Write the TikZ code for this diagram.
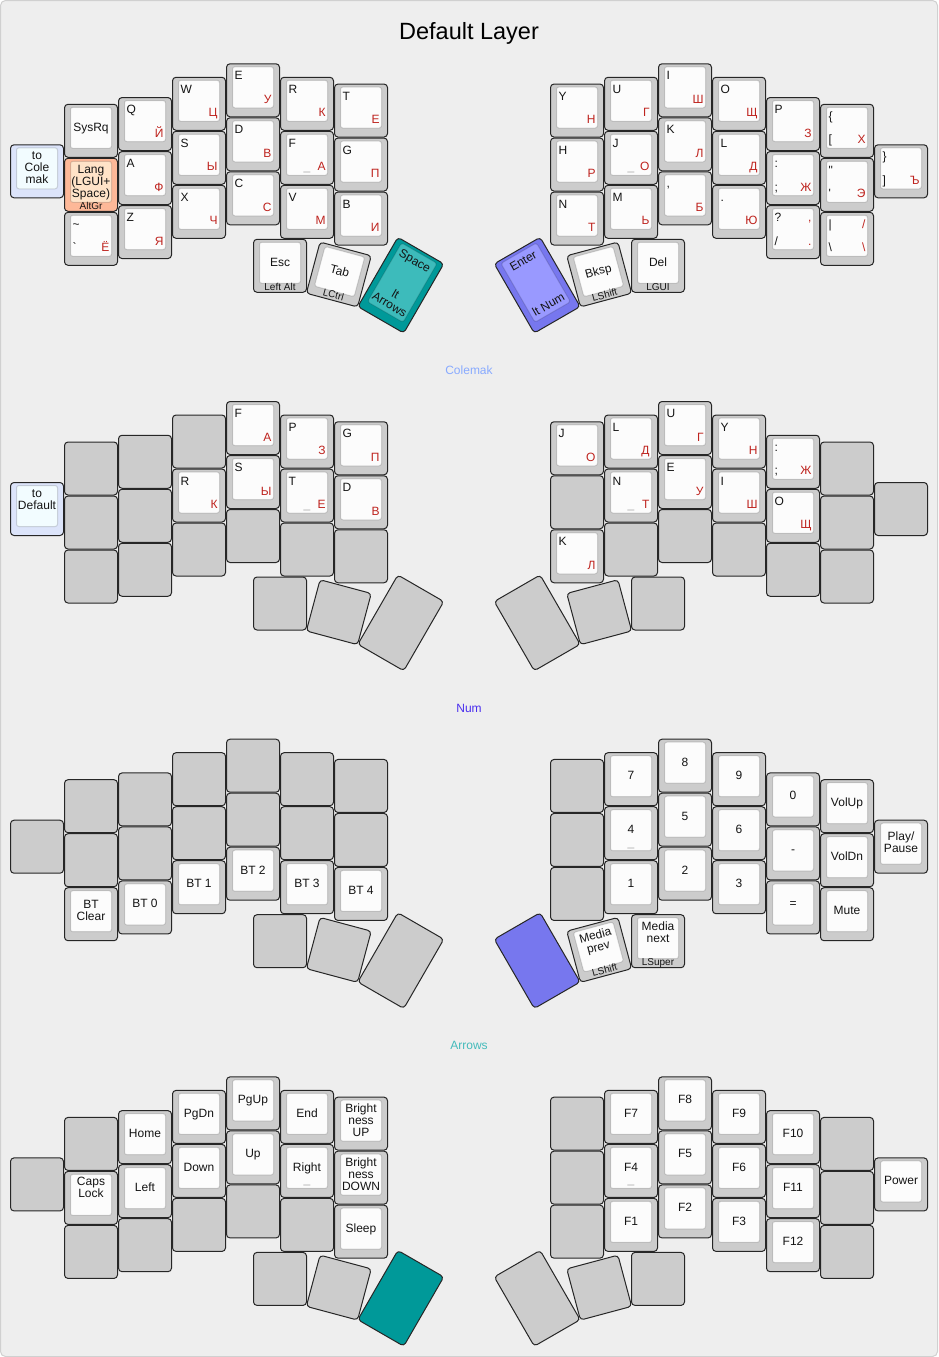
\documentclass[tikz,border=0pt]{standalone}
\usepackage{fontspec}
\setmainfont{Liberation Sans}[Ligatures=TeXOff]
\definecolor{bg}{HTML}{EEEEEE}
\definecolor{bgedge}{HTML}{D0D0D0}
\definecolor{kgray}{HTML}{CCCCCC}
\definecolor{kcap}{HTML}{FCFCFC}
\definecolor{kblueO}{HTML}{DCE4FA}
\definecolor{kblueI}{HTML}{F2FCFF}
\definecolor{klangO}{HTML}{FDB898}
\definecolor{klangI}{HTML}{FFE3C8}
\definecolor{ktealO}{HTML}{009999}
\definecolor{ktealI}{HTML}{3DBBBB}
\definecolor{kpurO}{HTML}{7777EE}
\definecolor{kpurI}{HTML}{9999FF}
\definecolor{kred}{HTML}{BE231E}
\definecolor{kedge}{HTML}{262626}
\definecolor{labColemak}{HTML}{88AAFF}
\definecolor{labNum}{HTML}{4A2EEE}
\definecolor{labArrows}{HTML}{44BBBB}

\newcommand\yoff[1]{\ifcase#1 81\or 40.5\or 33.75\or 13.5\or 0\or 13.5\or 20.25\fi}
\def\typecap{\def\kO{kgray}\def\kI{kcap}}
\def\typeblank{\def\kO{kgray}\def\kI{none}}
\def\typetoL{\def\kO{kblueO}\def\kI{kblueI}}
\def\typelang{\def\kO{klangO}\def\kI{klangI}}
\def\typeteal{\def\kO{ktealO}\def\kI{ktealI}}
\def\typepur{\def\kO{kpurO}\def\kI{kpurI}}
\def\typetealS{\def\kO{ktealO}\def\kI{none}}
\def\typepurS{\def\kO{kpurO}\def\kI{none}}
\def\knone{none}

% #1 type, #2 cx, #3 cy, #4 w, #5 h, #6 rotation, #7 legends
\newcommand\drawkey[7]{%
  \csname type#1\endcsname
  \def\kw{#4}\def\kh{#5}%
  \begin{scope}[shift={(#2,#3)},rotate=#6]
  \begin{scope}[shift={(-#4/2,-#5/2)}]
    \filldraw[keyouter,fill=\kO] (0,0) rectangle (#4,#5);
    \ifx\kI\knone\else
      \filldraw[keyinner,fill=\kI] (6,3) rectangle (#4-6,#5-9);
    \fi
    #7
  \end{scope}
  \end{scope}}

\newcommand\kTL[1]{\node[lg,anchor=base west] at (8,16) {#1};}
\newcommand\kBL[1]{\node[lg,anchor=base west] at (8,\kh-13.5) {#1};}
\newcommand\kTR[1]{\node[lg,text=kred,anchor=base east] at (\kw-8,16) {#1};}
\newcommand\kBR[1]{\node[lg,text=kred,anchor=base east] at (\kw-8,\kh-13.5) {#1};}
\newcommand\kHM{\node[lg,text=black!33,anchor=base] at (\kw/2,\kh-13.5) {\_};}
\newcommand\kTC[1]{\node[lg,anchor=base] at (\kw/2,16) {#1};}
\newcommand\kCC[2]{\foreach \lbl [count=\li from 0] in {#2} {\node[lg,anchor=base] at (\kw/2,#1+12*\li) {\lbl};}}
\newcommand\kBC[2]{\foreach \lbl [count=\li from 0] in {#2} {\node[lg,anchor=base] at (\kw/2,\kh-13.5-12*#1+12+12*\li) {\lbl};}}
\newcommand\kFR[1]{\node[lg,font=\fontsize{10}{10}\selectfont,anchor=base] at (\kw/2,\kh-2) {#1};}

% grid key: #1 side L/R, #2 column from outer edge, #3 row, #4 type, #5 legends
\newcommand\Kg[5]{%
  \pgfmathsetmacro\gx{10.5+54*#2+26.5}%
  \if#1R\pgfmathsetmacro\gx{938-\gx}\fi
  \pgfmathsetmacro\gy{63.8+\loff+\yoff{#2}+54*#3+26.5}%
  \drawkey{#4}{\gx}{\gy}{53}{53}{0}{#5}}

% thumb key: #1 side, #2 number 1..3, #3 type, #4 legends
\newcommand\Thumb[4]{%
  \ifcase#2\or \def\ktx{280}\def\kty{265.8}\def\ktr{0}\def\kth{53}%
  \or \def\ktx{338.8}\def\kty{274.5}\def\ktr{-15}\def\kth{53}%
  \or \def\ktx{400.8}\def\kty{285.2}\def\ktr{-30}\def\kth{80}\fi
  \if#1R\pgfmathsetmacro\ktx{938-\ktx}\pgfmathsetmacro\ktr{0-(\ktr)}\fi
  \pgfmathsetmacro\kty{\kty+\loff}%
  \drawkey{#3}{\ktx}{\kty}{53}{\kth}{\ktr}{#4}}

\begin{document}
\begin{tikzpicture}[x=1pt,y=-1pt,
  keyouter/.style={draw=kedge,line width=1pt,rounded corners=3.5pt},
  keyinner/.style={draw=black,draw opacity=0.14,line width=1pt,rounded corners=2.5pt},
  lg/.style={inner sep=0pt,outer sep=0pt,transform shape,font=\fontsize{12}{12}\selectfont,text=black!92},
  layerlabel/.style={inner sep=0pt,anchor=base,font=\fontsize{12}{12}\selectfont}]
\useasboundingbox (0,0) rectangle (938,1357);
\filldraw[fill=bg,draw=bgedge,line width=1pt,rounded corners=5pt] (0.5,0.5) rectangle (937.5,1356.5);

\node[inner sep=0pt,anchor=base,font=\fontsize{23.5}{24}\selectfont] (title) at (469,39.3) {Default Layer};
\node[layerlabel,text=labColemak] (labC) at (469,374.5) {Colemak};
\node[layerlabel,text=labNum] (labN) at (469,712.2) {Num};
\node[layerlabel,text=labArrows] (labA) at (469,1049.9) {Arrows};

%================ Default layer
\def\loff{0}
\Kg{L}{0}{0}{toL}{\kCC{15}{to,Cole,mak}}
\Kg{L}{1}{0}{cap}{\kCC{27}{SysRq}}
\Kg{L}{1}{1}{lang}{\kCC{15.5}{Lang,{(LGUI+},{Space)}}\kFR{AltGr}}
\Kg{L}{1}{2}{cap}{\kTL{\textasciitilde}\kBL{`}\kBR{Ё}}
\Kg{L}{2}{0}{cap}{\kTL{Q}\kBR{Й}}
\Kg{L}{2}{1}{cap}{\kTL{A}\kBR{Ф}}
\Kg{L}{2}{2}{cap}{\kTL{Z}\kBR{Я}}
\Kg{L}{3}{0}{cap}{\kTL{W}\kBR{Ц}}
\Kg{L}{3}{1}{cap}{\kTL{S}\kBR{Ы}}
\Kg{L}{3}{2}{cap}{\kTL{X}\kBR{Ч}}
\Kg{L}{4}{0}{cap}{\kTL{E}\kBR{У}}
\Kg{L}{4}{1}{cap}{\kTL{D}\kBR{В}}
\Kg{L}{4}{2}{cap}{\kTL{C}\kBR{С}}
\Kg{L}{5}{0}{cap}{\kTL{R}\kBR{К}}
\Kg{L}{5}{1}{cap}{\kTL{F}\kBR{А}\kHM}
\Kg{L}{5}{2}{cap}{\kTL{V}\kBR{М}}
\Kg{L}{6}{0}{cap}{\kTL{T}\kBR{Е}}
\Kg{L}{6}{1}{cap}{\kTL{G}\kBR{П}}
\Kg{L}{6}{2}{cap}{\kTL{B}\kBR{И}}
\Thumb{L}{1}{cap}{\kCC{27}{Esc}\kFR{Left Alt}}
\Thumb{L}{2}{cap}{\kCC{27}{Tab}\kFR{LCtrl}}
\Thumb{L}{3}{teal}{\kTC{Space}\kBC{2}{lt,Arrows}}
\Kg{R}{0}{0}{cap}{\kTL{\}}\kBL{]}\kBR{Ъ}}
\Kg{R}{1}{0}{cap}{\kTL{\{}\kBL{[}\kBR{Х}}
\Kg{R}{1}{1}{cap}{\kTL{"}\kBL{'}\kBR{Э}}
\Kg{R}{1}{2}{cap}{\kTL{|}\kBL{\textbackslash}\kTR{/}\kBR{\textbackslash}}
\Kg{R}{2}{0}{cap}{\kTL{P}\kBR{З}}
\Kg{R}{2}{1}{cap}{\kTL{:}\kBL{;}\kBR{Ж}}
\Kg{R}{2}{2}{cap}{\kTL{?}\kBL{/}\kTR{,}\kBR{.}}
\Kg{R}{3}{0}{cap}{\kTL{O}\kBR{Щ}}
\Kg{R}{3}{1}{cap}{\kTL{L}\kBR{Д}}
\Kg{R}{3}{2}{cap}{\kTL{.}\kBR{Ю}}
\Kg{R}{4}{0}{cap}{\kTL{I}\kBR{Ш}}
\Kg{R}{4}{1}{cap}{\kTL{K}\kBR{Л}}
\Kg{R}{4}{2}{cap}{\kTL{,}\kBR{Б}}
\Kg{R}{5}{0}{cap}{\kTL{U}\kBR{Г}}
\Kg{R}{5}{1}{cap}{\kTL{J}\kBR{О}\kHM}
\Kg{R}{5}{2}{cap}{\kTL{M}\kBR{Ь}}
\Kg{R}{6}{0}{cap}{\kTL{Y}\kBR{Н}}
\Kg{R}{6}{1}{cap}{\kTL{H}\kBR{Р}}
\Kg{R}{6}{2}{cap}{\kTL{N}\kBR{Т}}
\Thumb{R}{1}{cap}{\kCC{27}{Del}\kFR{LGUI}}
\Thumb{R}{2}{cap}{\kCC{27}{Bksp}\kFR{LShift}}
\Thumb{R}{3}{pur}{\kTC{Enter}\kBC{1}{lt Num}}

%================ Colemak layer
\def\loff{337.7}
\Kg{L}{0}{0}{toL}{\kCC{15}{to,Default}}
\Kg{L}{1}{0}{blank}{}
\Kg{L}{1}{1}{blank}{}
\Kg{L}{1}{2}{blank}{}
\Kg{L}{2}{0}{blank}{}
\Kg{L}{2}{1}{blank}{}
\Kg{L}{2}{2}{blank}{}
\Kg{L}{3}{0}{blank}{}
\Kg{L}{3}{1}{cap}{\kTL{R}\kBR{К}}
\Kg{L}{3}{2}{blank}{}
\Kg{L}{4}{0}{cap}{\kTL{F}\kBR{А}}
\Kg{L}{4}{1}{cap}{\kTL{S}\kBR{Ы}}
\Kg{L}{4}{2}{blank}{}
\Kg{L}{5}{0}{cap}{\kTL{P}\kBR{З}}
\Kg{L}{5}{1}{cap}{\kTL{T}\kBR{Е}\kHM}
\Kg{L}{5}{2}{blank}{}
\Kg{L}{6}{0}{cap}{\kTL{G}\kBR{П}}
\Kg{L}{6}{1}{cap}{\kTL{D}\kBR{В}}
\Kg{L}{6}{2}{blank}{}
\Thumb{L}{1}{blank}{}
\Thumb{L}{2}{blank}{}
\Thumb{L}{3}{blank}{}
\Kg{R}{0}{0}{blank}{}
\Kg{R}{1}{0}{blank}{}
\Kg{R}{1}{1}{blank}{}
\Kg{R}{1}{2}{blank}{}
\Kg{R}{2}{0}{cap}{\kTL{:}\kBL{;}\kBR{Ж}}
\Kg{R}{2}{1}{cap}{\kTL{O}\kBR{Щ}}
\Kg{R}{2}{2}{blank}{}
\Kg{R}{3}{0}{cap}{\kTL{Y}\kBR{Н}}
\Kg{R}{3}{1}{cap}{\kTL{I}\kBR{Ш}}
\Kg{R}{3}{2}{blank}{}
\Kg{R}{4}{0}{cap}{\kTL{U}\kBR{Г}}
\Kg{R}{4}{1}{cap}{\kTL{E}\kBR{У}}
\Kg{R}{4}{2}{blank}{}
\Kg{R}{5}{0}{cap}{\kTL{L}\kBR{Д}}
\Kg{R}{5}{1}{cap}{\kTL{N}\kBR{Т}\kHM}
\Kg{R}{5}{2}{blank}{}
\Kg{R}{6}{0}{cap}{\kTL{J}\kBR{О}}
\Kg{R}{6}{1}{blank}{}
\Kg{R}{6}{2}{cap}{\kTL{K}\kBR{Л}}
\Thumb{R}{1}{blank}{}
\Thumb{R}{2}{blank}{}
\Thumb{R}{3}{blank}{}

%================ Num layer
\def\loff{675.4}
\Kg{L}{0}{0}{blank}{}
\Kg{L}{1}{0}{blank}{}
\Kg{L}{1}{1}{blank}{}
\Kg{L}{1}{2}{cap}{\kCC{21}{BT,Clear}}
\Kg{L}{2}{0}{blank}{}
\Kg{L}{2}{1}{blank}{}
\Kg{L}{2}{2}{cap}{\kCC{27}{BT 0}}
\Kg{L}{3}{0}{blank}{}
\Kg{L}{3}{1}{blank}{}
\Kg{L}{3}{2}{cap}{\kCC{27}{BT 1}}
\Kg{L}{4}{0}{blank}{}
\Kg{L}{4}{1}{blank}{}
\Kg{L}{4}{2}{cap}{\kCC{27}{BT 2}}
\Kg{L}{5}{0}{blank}{}
\Kg{L}{5}{1}{blank}{}
\Kg{L}{5}{2}{cap}{\kCC{27}{BT 3}}
\Kg{L}{6}{0}{blank}{}
\Kg{L}{6}{1}{blank}{}
\Kg{L}{6}{2}{cap}{\kCC{27}{BT 4}}
\Thumb{L}{1}{blank}{}
\Thumb{L}{2}{blank}{}
\Thumb{L}{3}{blank}{}
\Kg{R}{0}{0}{cap}{\kCC{20.5}{Play/,Pause}}
\Kg{R}{1}{0}{cap}{\kCC{27}{VolUp}}
\Kg{R}{1}{1}{cap}{\kCC{27}{VolDn}}
\Kg{R}{1}{2}{cap}{\kCC{27}{Mute}}
\Kg{R}{2}{0}{cap}{\kCC{27}{0}}
\Kg{R}{2}{1}{cap}{\kCC{27}{-}}
\Kg{R}{2}{2}{cap}{\kCC{27}{=}}
\Kg{R}{3}{0}{cap}{\kCC{27}{9}}
\Kg{R}{3}{1}{cap}{\kCC{27}{6}}
\Kg{R}{3}{2}{cap}{\kCC{27}{3}}
\Kg{R}{4}{0}{cap}{\kCC{27}{8}}
\Kg{R}{4}{1}{cap}{\kCC{27}{5}}
\Kg{R}{4}{2}{cap}{\kCC{27}{2}}
\Kg{R}{5}{0}{cap}{\kCC{27}{7}}
\Kg{R}{5}{1}{cap}{\kCC{27}{4}\kHM}
\Kg{R}{5}{2}{cap}{\kCC{27}{1}}
\Kg{R}{6}{0}{blank}{}
\Kg{R}{6}{1}{blank}{}
\Kg{R}{6}{2}{blank}{}
\Thumb{R}{1}{cap}{\kCC{15.5}{Media,next}\kFR{LSuper}}
\Thumb{R}{2}{cap}{\kCC{15.5}{Media,prev}\kFR{LShift}}
\Thumb{R}{3}{purS}{}

%================ Arrows layer
\def\loff{1013.1}
\Kg{L}{0}{0}{blank}{}
\Kg{L}{1}{0}{blank}{}
\Kg{L}{1}{1}{cap}{\kCC{14.5}{Caps,Lock}}
\Kg{L}{1}{2}{blank}{}
\Kg{L}{2}{0}{cap}{\kCC{27}{Home}}
\Kg{L}{2}{1}{cap}{\kCC{27}{Left}}
\Kg{L}{2}{2}{blank}{}
\Kg{L}{3}{0}{cap}{\kCC{27}{PgDn}}
\Kg{L}{3}{1}{cap}{\kCC{27}{Down}}
\Kg{L}{3}{2}{blank}{}
\Kg{L}{4}{0}{cap}{\kCC{27}{PgUp}}
\Kg{L}{4}{1}{cap}{\kCC{27}{Up}}
\Kg{L}{4}{2}{blank}{}
\Kg{L}{5}{0}{cap}{\kCC{27}{End}}
\Kg{L}{5}{1}{cap}{\kCC{27}{Right}\kHM}
\Kg{L}{5}{2}{blank}{}
\Kg{L}{6}{0}{cap}{\kCC{15}{Bright,ness,UP}}
\Kg{L}{6}{1}{cap}{\kCC{15}{Bright,ness,DOWN}}
\Kg{L}{6}{2}{cap}{\kCC{27}{Sleep}}
\Thumb{L}{1}{blank}{}
\Thumb{L}{2}{blank}{}
\Thumb{L}{3}{tealS}{}
\Kg{R}{0}{0}{cap}{\kCC{27}{Power}}
\Kg{R}{1}{0}{blank}{}
\Kg{R}{1}{1}{blank}{}
\Kg{R}{1}{2}{blank}{}
\Kg{R}{2}{0}{cap}{\kCC{27}{F10}}
\Kg{R}{2}{1}{cap}{\kCC{27}{F11}}
\Kg{R}{2}{2}{cap}{\kCC{27}{F12}}
\Kg{R}{3}{0}{cap}{\kCC{27}{F9}}
\Kg{R}{3}{1}{cap}{\kCC{27}{F6}}
\Kg{R}{3}{2}{cap}{\kCC{27}{F3}}
\Kg{R}{4}{0}{cap}{\kCC{27}{F8}}
\Kg{R}{4}{1}{cap}{\kCC{27}{F5}}
\Kg{R}{4}{2}{cap}{\kCC{27}{F2}}
\Kg{R}{5}{0}{cap}{\kCC{27}{F7}}
\Kg{R}{5}{1}{cap}{\kCC{27}{F4}\kHM}
\Kg{R}{5}{2}{cap}{\kCC{27}{F1}}
\Kg{R}{6}{0}{blank}{}
\Kg{R}{6}{1}{blank}{}
\Kg{R}{6}{2}{blank}{}
\Thumb{R}{1}{blank}{}
\Thumb{R}{2}{blank}{}
\Thumb{R}{3}{blank}{}
\end{tikzpicture}
\end{document}
